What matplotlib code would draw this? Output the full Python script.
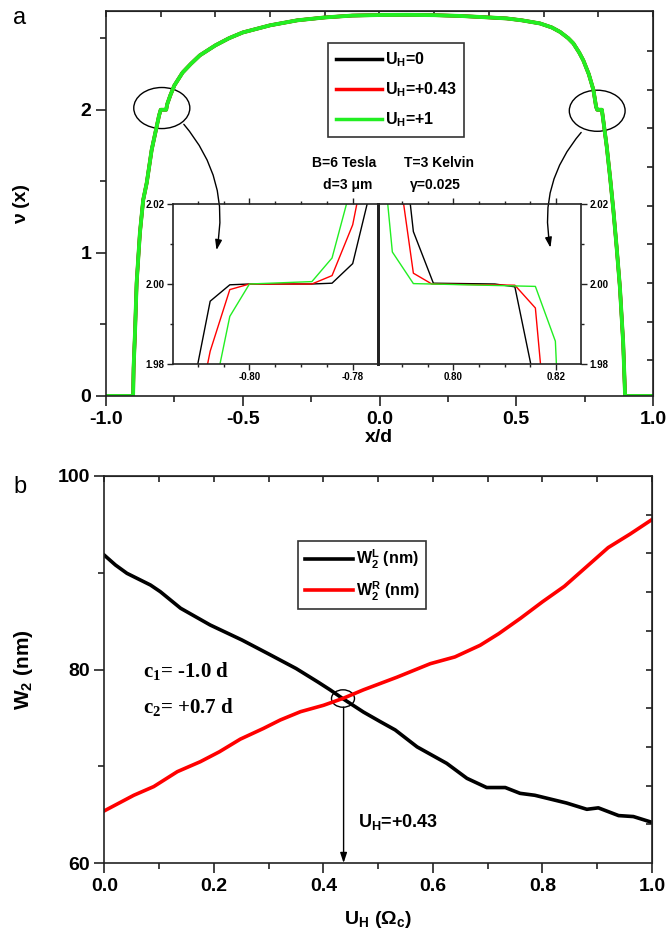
import numpy as np
import matplotlib
matplotlib.use("Agg")
import matplotlib.pyplot as plt
from matplotlib.patches import Ellipse
from matplotlib.lines import Line2D
from matplotlib.ticker import MultipleLocator

plt.rcParams['font.family'] = ['Liberation Sans', 'DejaVu Sans']
plt.rcParams['font.weight'] = 'bold'
plt.rcParams['mathtext.fontset'] = 'custom'
plt.rcParams['mathtext.rm'] = 'Liberation Sans:bold'
plt.rcParams['mathtext.it'] = 'Liberation Sans:bold'
plt.rcParams['mathtext.bf'] = 'Liberation Sans:bold'
plt.rcParams['mathtext.sf'] = 'Liberation Serif:bold'

# ---- panel a: filling factor profile nu(x) (all three U_H overlap here)
x_main = [-1.0, -0.901, -0.899, -0.894, -0.888, -0.876, -0.864, -0.851, -0.833,
          -0.815, -0.806, -0.800, -0.780, -0.776, -0.765, -0.750, -0.720, -0.690,
          -0.657, -0.600, -0.550, -0.500, -0.400, -0.300, -0.200, -0.100, 0.000,
          0.100, 0.200, 0.300, 0.400, 0.465, 0.520, 0.587, 0.630, 0.660, 0.690,
          0.709, 0.730, 0.745, 0.765, 0.782, 0.792, 0.796, 0.813, 0.818, 0.831,
          0.843, 0.855, 0.867, 0.879, 0.891, 0.898, 1.0]
nu_main = [0.0, 0.0, 0.20, 0.44, 0.79, 1.14, 1.37, 1.49, 1.72,
           1.88, 1.96, 2.00, 2.00, 2.04, 2.10, 2.17, 2.26, 2.32,
           2.38, 2.45, 2.50, 2.54, 2.59, 2.625, 2.645, 2.658, 2.662,
           2.663, 2.661, 2.655, 2.645, 2.638, 2.625, 2.603, 2.575, 2.544, 2.50,
           2.463, 2.40, 2.346, 2.25, 2.14, 2.02, 2.00, 2.00, 1.93, 1.74,
           1.53, 1.30, 1.04, 0.76, 0.37, 0.0, 0.0]

# insets: zoom on the nu=2 plateaus
xl_0 = [-0.8100, -0.8076, -0.8038, -0.8000, -0.7879, -0.7840, -0.7800, -0.7772]
yl_0 = [1.980, 1.9957, 1.9998, 2.000, 2.000, 2.0002, 2.0051, 2.020]
xl_43 = [-0.8081, -0.8076, -0.8038, -0.8000, -0.7879, -0.7840, -0.7800, -0.7792]
yl_43 = [1.980, 1.9832, 1.9986, 2.000, 2.000, 2.0021, 2.0148, 2.020]
xl_1 = [-0.8057, -0.8038, -0.8000, -0.7879, -0.7840, -0.7812]
yl_1 = [1.980, 1.9919, 2.000, 2.0006, 2.0065, 2.020]

xr_0 = [0.7916, 0.7922, 0.7961, 0.8081, 0.8120, 0.8151]
yr_0 = [2.020, 2.0131, 2.0002, 2.000, 1.9993, 1.980]
xr_43 = [0.7903, 0.7922, 0.7958, 0.8120, 0.8160, 0.8170]
yr_43 = [2.020, 2.0027, 2.000, 1.9997, 1.9940, 1.980]
xr_1 = [0.7872, 0.7881, 0.7922, 0.8160, 0.8199, 0.8201]
yr_1 = [2.020, 2.0080, 2.0001, 1.9994, 1.9857, 1.980]

# ---- panel b: edge widths vs U_H
uh_L = [0.0, 0.02, 0.041, 0.084, 0.102, 0.139, 0.193, 0.251, 0.30, 0.35, 0.39,
        0.412, 0.435, 0.473, 0.504, 0.531, 0.571, 0.625, 0.662, 0.698, 0.732,
        0.759, 0.786, 0.844, 0.881, 0.902, 0.939, 0.966, 1.0]
w2_L = [91.8, 90.8, 89.94, 88.73, 88.04, 86.33, 84.6, 83.05, 81.6, 80.1, 78.7,
        77.9, 77.0, 75.6, 74.6, 73.75, 72.0, 70.3, 68.75, 67.8, 67.8,
        67.2, 67.0, 66.2, 65.55, 65.7, 64.9, 64.8, 64.2]
uh_R = [0.0, 0.0535, 0.09, 0.133, 0.175, 0.21, 0.248, 0.29, 0.321, 0.358, 0.40,
        0.435, 0.473, 0.534, 0.595, 0.64, 0.686, 0.72, 0.76, 0.80, 0.84, 0.88,
        0.92, 0.96, 1.0]
w2_R = [65.4, 67.0, 67.9, 69.44, 70.47, 71.5, 72.8, 73.9, 74.78, 75.64, 76.3,
        77.0, 77.9, 79.2, 80.6, 81.3, 82.5, 83.7, 85.3, 87.0, 88.6, 90.6,
        92.6, 94.0, 95.5]

W, H = 667, 939


def fx(p):
    return p / W


def fy(p):
    return 1 - p / H


spine_c = '#222222'


def style_axes(ax, size=13):
    for s in ax.spines.values():
        s.set_color(spine_c)
        s.set_linewidth(1.2)
    ax.tick_params(which='major', direction='out', length=7, width=1.2,
                   color=spine_c, labelsize=size)
    ax.tick_params(which='minor', direction='out', length=4, width=1.2,
                   color=spine_c)
    for lab in ax.get_xticklabels() + ax.get_yticklabels():
        lab.set_fontweight('bold')


fig = plt.figure(figsize=(6.67, 9.39), dpi=100)

# ================= panel a
ax1 = fig.add_axes([fx(106), fy(396), (653 - 106) / W, (396 - 11) / H])
ax1.plot(x_main, nu_main, color='black', lw=2.4)
ax1.plot(x_main, nu_main, color='red', lw=2.6)
ax1.plot(x_main, nu_main, color='#22ee22', lw=2.8)
ax1.set_xlim(-1, 1)
ax1.set_ylim(0, 2.69)
ax1.set_xticks([-1.0, -0.5, 0.0, 0.5, 1.0])
ax1.set_xticklabels(['-1.0', '-0.5', '0.0', '0.5', '1.0'])
ax1.xaxis.set_minor_locator(MultipleLocator(0.25))
ax1.set_yticks([0, 1, 2])
ax1.yaxis.set_minor_locator(MultipleLocator(0.5))
style_axes(ax1, 14)

top1 = ax1.secondary_xaxis('top')
top1.set_xticks(list(np.arange(-1.0, 1.01, 0.2)), labels=[''] * 11)
top1.tick_params(direction='in', length=4, width=1.2, color=spine_c)
top1.spines['top'].set_color(spine_c)
right1 = ax1.secondary_yaxis('right')
rticks = [0.25, 0.52, 0.79, 1.06, 1.33, 1.60, 1.87, 2.14, 2.41]
right1.set_yticks(rticks, labels=[''] * len(rticks))
right1.tick_params(direction='in', length=4, width=1.2, color=spine_c)
right1.spines['right'].set_color(spine_c)

handles = [Line2D([], [], color='black', lw=2.5),
           Line2D([], [], color='red', lw=2.5),
           Line2D([], [], color='#22ee22', lw=2.5)]
labels = [r'U$_{\rm H}$=0', r'U$_{\rm H}$=+0.43', r'U$_{\rm H}$=+1']
leg = ax1.legend(handles, labels, loc='upper left', bbox_to_anchor=(0.406, 0.918),
                 fontsize=11.5, frameon=True, fancybox=False, handlelength=2.9,
                 handletextpad=0.15, labelspacing=0.7, borderpad=0.5,
                 borderaxespad=0)
leg.get_frame().set_edgecolor('black')
leg.get_frame().set_linewidth(1.2)

ax1.text(-0.13, 1.626, 'B=6 Tesla', ha='center', va='center', fontsize=10)
ax1.text(0.219, 1.626, 'T=3 Kelvin', ha='center', va='center', fontsize=10)
ax1.text(-0.117, 1.472, 'd=3 μm', ha='center', va='center', fontsize=10)
ax1.text(0.203, 1.472, 'γ=0.025', ha='center', va='center', fontsize=10)

ax1.add_patch(Ellipse((-0.796, 2.012), 0.205, 0.287, fill=False, ec='black', lw=1))
ax1.add_patch(Ellipse((0.796, 1.993), 0.204, 0.287, fill=False, ec='black', lw=1))

# insets (transparent so the arrows from the main panel stay visible)
inl = fig.add_axes([fx(173), fy(364), (378 - 173) / W, (364 - 204) / H])
inr = fig.add_axes([fx(378), fy(364), (581 - 378) / W, (364 - 204) / H])
inl.plot(xl_0, yl_0, color='black', lw=1)
inl.plot(xl_43, yl_43, color='red', lw=1)
inl.plot(xl_1, yl_1, color='#22ee22', lw=1)
inr.plot(xr_0, yr_0, color='black', lw=1)
inr.plot(xr_43, yr_43, color='red', lw=1)
inr.plot(xr_1, yr_1, color='#22ee22', lw=1)
inl.set_xlim(-0.8148, -0.7751)
inr.set_xlim(0.7853, 0.8249)
for a in (inl, inr):
    a.patch.set_facecolor('none')
    a.set_ylim(1.98, 2.02)
    a.set_yticks([1.98, 2.00, 2.02])
    a.set_yticklabels(['1.98', '2.00', '2.02'])
    a.yaxis.set_minor_locator(MultipleLocator(0.01))
    a.xaxis.set_minor_locator(MultipleLocator(0.005))
    for s in a.spines.values():
        s.set_color(spine_c)
        s.set_linewidth(1.2)
    a.tick_params(which='both', direction='out', color=spine_c, width=1,
                  labelsize=7, top=True, pad=2)
    a.tick_params(which='major', length=4)
    a.tick_params(which='minor', length=2.5)
inl.set_xticks([-0.80, -0.78])
inl.set_xticklabels(['-0.80', '-0.78'])
inr.set_xticks([0.80, 0.82])
inr.set_xticklabels(['0.80', '0.82'])
inr.yaxis.tick_right()
inr.tick_params(which='both', right=True, left=False)
inl.spines['right'].set_linewidth(2)
inr.spines['left'].set_linewidth(2)
for a in (inl, inr):
    for lab in a.get_xticklabels() + a.get_yticklabels():
        lab.set_fontweight('bold')

# curved arrows from the circles into the insets, drawn on top
arr = dict(arrowstyle='-|>,head_length=0.6,head_width=0.2', color='black', lw=1)
ax1.annotate('', xy=(-0.598, 1.0), xytext=(-0.722, 1.913), zorder=10,
             arrowprops=dict(arr, connectionstyle='arc3,rad=-0.25'))
ax1.annotate('', xy=(0.627, 1.017), xytext=(0.744, 1.856), zorder=10,
             arrowprops=dict(arr, connectionstyle='arc3,rad=0.25'))

fig.text(fx(22), fy(204), 'ν (x)', rotation=90, ha='center', va='center',
         fontsize=14, fontweight='bold')
fig.text(fx(379), fy(437), 'x/d', ha='center', va='center', fontsize=14,
         fontweight='bold')
fig.text(fx(20), fy(18), 'a', ha='center', va='center', fontsize=17,
         fontweight='normal')

# ================= panel b
ax2 = fig.add_axes([fx(104.5), fy(863), (652 - 104.5) / W, (863 - 476) / H])
ax2.plot(uh_L, w2_L, color='black', lw=2.6, label=r'W$_{\rm 2}^{\rm L}$ (nm)')
ax2.plot(uh_R, w2_R, color='red', lw=2.6, label=r'W$_{\rm 2}^{\rm R}$ (nm)')
ax2.set_xlim(0, 1)
ax2.set_ylim(60, 100)
ax2.set_xticks([0.0, 0.2, 0.4, 0.6, 0.8, 1.0])
ax2.set_xticklabels(['0.0', '0.2', '0.4', '0.6', '0.8', '1.0'])
ax2.xaxis.set_minor_locator(MultipleLocator(0.1))
ax2.set_yticks([60, 80, 100])
ax2.yaxis.set_minor_locator(MultipleLocator(10))
style_axes(ax2, 14)

top2 = ax2.secondary_xaxis('top')
top2.set_xticks(list(np.arange(0.0, 1.01, 0.1)), labels=[''] * 11)
top2.tick_params(direction='in', length=4, width=1.2, color=spine_c)
top2.spines['top'].set_color(spine_c)
right2 = ax2.secondary_yaxis('right')
rt2 = list(range(64, 100, 4))
right2.set_yticks(rt2, labels=[''] * len(rt2))
right2.tick_params(direction='in', length=4, width=1.2, color=spine_c)
right2.spines['right'].set_color(spine_c)

leg2 = ax2.legend(loc='upper left', bbox_to_anchor=(0.354, 0.832), fontsize=11.5,
                  frameon=True, fancybox=False, handlelength=3.0,
                  handletextpad=0.2, labelspacing=0.55, borderpad=0.4,
                  borderaxespad=0)
leg2.get_frame().set_edgecolor('black')
leg2.get_frame().set_linewidth(1.2)

ax2.text(0.071, 79.77, r'c$_{\mathsf{1}}$= -1.0 d', ha='left', va='center',
         fontsize=15, family='Liberation Serif', fontweight='bold')
ax2.text(0.071, 76.0, r'c$_{\mathsf{2}}$= +0.7 d', ha='left', va='center',
         fontsize=15, family='Liberation Serif', fontweight='bold')
ax2.add_patch(Ellipse((0.4356, 77.0), 0.042, 1.8, fill=False, ec='black', lw=1))
ax2.annotate('', xy=(0.4367, 60), xytext=(0.4367, 76.1),
             arrowprops=dict(arrowstyle='-|>,head_length=0.6,head_width=0.2',
                             color='black', lw=1, shrinkA=0, shrinkB=0))
ax2.text(0.4635, 64.27, r'U$_{\rm H}$=+0.43', ha='left', va='center', fontsize=13)

fig.text(fx(24), fy(670), r'W$_{\rm 2}$ (nm)', rotation=90, ha='center',
         va='center', fontsize=15, fontweight='bold')
fig.text(fx(378), fy(920), r'U$_{\rm H}$ (Ω$_{\rm c}$)', ha='center', va='center',
         fontsize=14, fontweight='bold')
fig.text(fx(20), fy(487), 'b', ha='center', va='center', fontsize=17,
         fontweight='normal')

fig.savefig('out.png', dpi=100)
